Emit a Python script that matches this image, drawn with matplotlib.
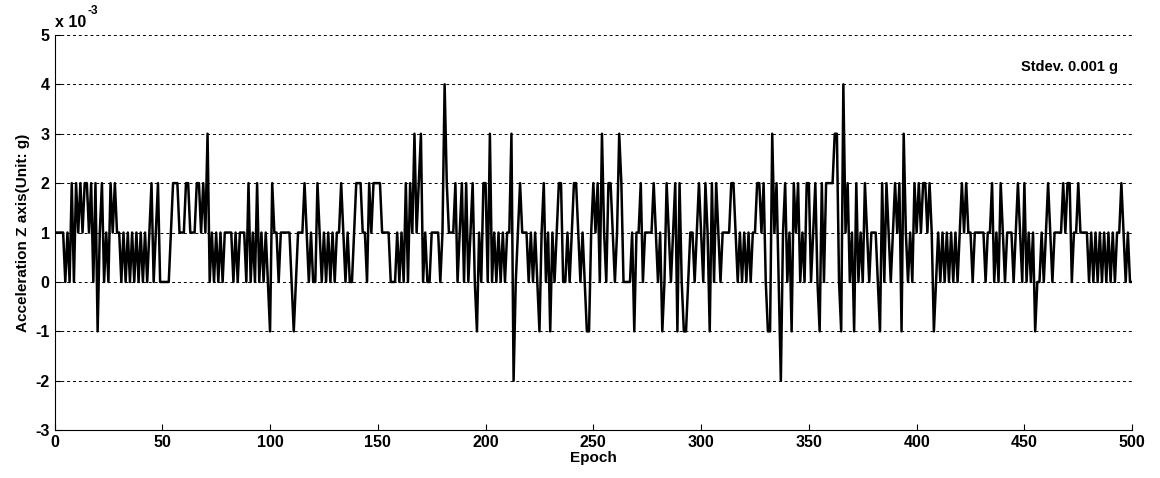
import numpy as np
import matplotlib
matplotlib.use("Agg")
import matplotlib.pyplot as plt

plt.rcParams["font.family"] = ["Liberation Sans", "DejaVu Sans"]
plt.rcParams["font.weight"] = "bold"
plt.rcParams["axes.unicode_minus"] = False

# acceleration Z, in units of 1e-3 g, one value per epoch (0..500)
seg_000 = [1, 1, 1, 1, 1, 0, 1, 0, 2, 0, 2, 1, 2, 1, 2, 2, 1, 2, 0, 2,
           -1, 1, 2, 0, 1, 0, 2, 1, 2, 1, 1, 0, 1, 0, 1, 0, 1, 0, 1, 0,
           1, 0, 1, 0, 1, 2, 0, 1, 2, 0]
seg_050 = [0, 0, 0, 0, 1, 2, 2, 2, 1, 1, 1, 2, 2, 1, 1, 1, 2, 2, 1, 2,
           1, 3, 0, 1, 0, 1, 0, 1, 0, 1, 1, 1, 1, 0, 1, 0, 1, 1, 1, 0,
           2, 0, 1, 0, 2, 0, 1, 0, 1, 0]
seg_100 = [-1, 2, 1, 1, 0, 1, 1, 1, 1, 1, 0, -1, 0, 1, 1, 1, 2, 1, 0, 1,
           0, 0, 2, 1, 0, 1, 0, 1, 0, 1, 0, 1, 1, 2, 1, 0, 1, 0, 0, 1,
           2, 2, 2, 1, 1, 0, 2, 1, 2, 2]
seg_150 = [2, 2, 1, 1, 1, 1, 0, 0, 0, 1, 0, 1, 0, 2, 0, 2, 1, 3, 1, 2,
           3, 0, 1, 0, 0, 1, 1, 1, 1, 0, 1, 4, 2, 1, 1, 1, 2, 0, 1, 2,
           0, 2, 0, 1, 2, 0, -1, 1, 0, 2]
seg_200 = [2, 0, 3, 0, 1, 0, 1, 0, 1, 0, 1, 1, 3, -2, 0, 1, 2, 1, 1, 1,
           0, 1, 0, 1, 0, -1, 1, 2, 0, 1, -1, 1, 0, 1, 2, 2, 0, 0, 1, 0,
           1, 2, 2, 1, 0, 1, 0, -1, -1, 1]
seg_250 = [2, 1, 2, 0, 3, 1, 0, 2, 2, 1, 0, 1, 3, 2, 0, 0, 0, 0, 1, -1,
           1, 1, 2, 0, 1, 1, 1, 1, 2, 1, 0, 1, -1, 0, 2, 1, 0, 1, 2, -1,
           2, 0, -1, -1, 0, 1, 1, 0, 1, 2]
seg_300 = [1, 0, 2, 1, -1, 2, 0, 2, 1, 0, 1, 1, 1, 1, 2, 2, 1, 0, 1, 0,
           1, 0, 1, 0, 1, 1, 2, 2, 1, 2, 0, -1, -1, 3, 1, 2, 0, -2, 1, 2,
           0, 1, -1, 2, 1, 2, 0, 1, 0, 2]
seg_350 = [2, 0, 1, 2, 0, -1, 2, 0, 2, 2, 2, 2, 3, 3, 0, -1, 4, 1, 2, 0,
           1, -1, 2, 0, 1, 0, 2, 1, 0, 1, 1, 1, 0, -1, 2, 0, 2, 1, 0, 1,
           2, 1, 2, -1, 3, 1, 0, 1, 0, 2]
seg_400 = [1, 2, 1, 2, 2, 1, 2, 1, -1, 0, 1, 0, 1, 0, 1, 0, 1, 0, 1, 0,
           1, 2, 1, 2, 1, 1, 0, 1, 1, 1, 1, 1, 0, 1, 1, 2, 0, 1, 0, 2,
           1, 0, 1, 1, 1, 0, 1, 2, 1, 0]
seg_450 = [2, 0, 1, 0, 1, -1, 0, 0, 1, 0, 1, 2, 1, 0, 1, 1, 1, 1, 2, 1,
           2, 2, 0, 1, 1, 2, 1, 1, 1, 1, 0, 1, 0, 1, 0, 1, 0, 1, 0, 1,
           0, 1, 0, 1, 1, 2, 1, 0, 1, 0, 0]

acc_z = np.array(seg_000 + seg_050 + seg_100 + seg_150 + seg_200 +
                 seg_250 + seg_300 + seg_350 + seg_400 + seg_450)
epoch = np.arange(len(acc_z))

x_ticks = list(range(0, 501, 50))
y_ticks = list(range(-3, 6))

fig = plt.figure(figsize=(11.6, 4.78), dpi=100)
ax = fig.add_axes([0.047, 0.100, 0.929, 0.827])

ax.plot(epoch, acc_z, color="black", linewidth=1.8)

ax.set_xlim(0, 500)
ax.set_ylim(-3, 5)
ax.set_xticks(x_ticks)
ax.set_yticks(y_ticks)
ax.tick_params(direction="in", labelsize=11.5, length=4, width=0.8)
for lab in ax.get_xticklabels() + ax.get_yticklabels():
    lab.set_fontweight("bold")

ax.yaxis.grid(True, linestyle=(0, (3, 3)), color="black", linewidth=0.7)
ax.spines["top"].set_visible(False)
ax.spines["right"].set_visible(False)

ax.set_xlabel("Epoch", fontsize=11, fontweight="bold", labelpad=1)
ax.set_ylabel("Acceleration Z axis(Unit: g)", fontsize=11, fontweight="bold", labelpad=4)

# MATLAB-style exponent label above the y axis
ax.text(0.0, 1.012, "x 10", transform=ax.transAxes,
        fontsize=11.5, fontweight="bold", ha="left", va="bottom")
ax.text(0.0305, 1.045, "-3", transform=ax.transAxes,
        fontsize=8.5, fontweight="bold", ha="left", va="bottom")
ax.text(0.987, 0.92, "Stdev. 0.001 g", transform=ax.transAxes,
        fontsize=10.5, fontweight="bold", ha="right", va="center")

fig.savefig("out.png", dpi=100)
